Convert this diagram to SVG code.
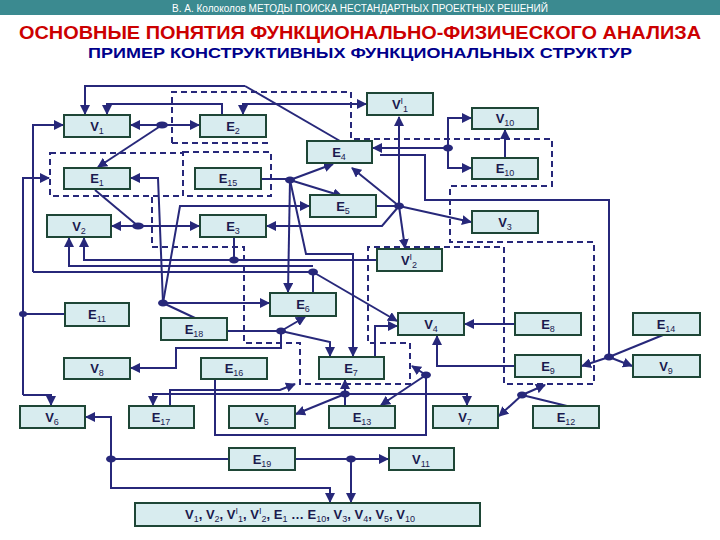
<svg xmlns="http://www.w3.org/2000/svg" width="720" height="540" viewBox="0 0 720 540">
<style>
.n rect{fill:#d8ecef;stroke:#1e4636;stroke-width:2}
.n text{font-family:"Liberation Sans",Arial,sans-serif;font-weight:bold;font-size:13px;fill:#1a1a4e;text-anchor:middle}
.n tspan.s{font-size:9px;font-weight:normal}
.c path{fill:none;stroke:#27287a;stroke-width:2}
.c ellipse{fill:#27287a}
.d{fill:none;stroke:#27287a;stroke-width:2;stroke-dasharray:6 4}
</style>
<defs>
<marker id="a" viewBox="0 0 10 10" refX="9" refY="5" markerWidth="5" markerHeight="5" orient="auto-start-reverse"><path d="M0,0L10,5L0,10z" fill="#27287a"/></marker>
</defs>
<rect width="720" height="540" fill="#fff"/>
<rect x="0" y="0" width="720" height="15" fill="#3b8a90"/>
<text x="360" y="11.5" font-family="Liberation Sans,Arial,sans-serif" font-size="10" fill="#fff" text-anchor="middle">В. А. Колоколов  МЕТОДЫ  ПОИСКА  НЕСТАНДАРТНЫХ  ПРОЕКТНЫХ  РЕШЕНИЙ</text>
<text x="360" y="39" font-family="Liberation Sans,Arial,sans-serif" font-weight="bold" font-size="19" fill="#cc0000" text-anchor="middle" textLength="682" lengthAdjust="spacingAndGlyphs">ОСНОВНЫЕ ПОНЯТИЯ ФУНКЦИОНАЛЬНО-ФИЗИЧЕСКОГО АНАЛИЗА</text>
<text x="360" y="58" font-family="Liberation Sans,Arial,sans-serif" font-weight="bold" font-size="15" fill="#00008b" text-anchor="middle" textLength="544" lengthAdjust="spacingAndGlyphs">ПРИМЕР КОНСТРУКТИВНЫХ ФУНКЦИОНАЛЬНЫХ СТРУКТУР</text>

<g id="dashed">
<rect class="d" x="50" y="153" width="133" height="43"/>
<rect class="d" x="183" y="152" width="88" height="44"/>
<path class="d" d="M172,143 V92 H351 V139 H552 V186 H450 V242 H594 V384 H504 V247 H368 V343 H410 V384 H300 V343 H244 V247 H152 V196"/>
<path class="d" d="M172,143 H271"/>
</g>

<g class="c" id="connectors">
<path d="M245,86 H85 V114" marker-end="url(#a)"/>
<path d="M245,86 L340,141"/>
<path d="M222,115 V104 H107 V114" marker-end="url(#a)"/>
<path d="M243,114 V104 H366" marker-start="url(#a)" marker-end="url(#a)"/>
<ellipse cx="162" cy="125" rx="6" ry="3.5"/>
<path d="M162,125 H131" marker-end="url(#a)"/>
<path d="M162,125 H199" marker-end="url(#a)"/>
<path d="M162,125 L98,167" marker-end="url(#a)"/>
<path d="M33,272 V125 H63" marker-end="url(#a)"/>
<path d="M23,395 V178 H49" marker-end="url(#a)"/>
<path d="M95,190 L138,226"/>
<ellipse cx="138" cy="226" rx="6" ry="3.5"/>
<path d="M138,226 H112" marker-end="url(#a)"/>
<path d="M138,226 H199" marker-end="url(#a)"/>
<path d="M163,303 L158,178 H131" marker-end="url(#a)"/>
<path d="M163,303 L180,206 H309" marker-end="url(#a)"/>
<path d="M261,179 H290"/>
<ellipse cx="290" cy="180" rx="5" ry="3.5"/>
<path d="M290,180 L333,164" marker-end="url(#a)"/>
<path d="M290,180 L342,196" marker-end="url(#a)"/>
<path d="M290,180 L288,292" marker-end="url(#a)"/>
<path d="M290,180 L306,254 H353 V356" marker-end="url(#a)"/>
<path d="M376,206 H399"/>
<ellipse cx="399" cy="206" rx="5" ry="3.5"/>
<path d="M399,206 L352,168" marker-end="url(#a)"/>
<path d="M399,206 V117" marker-end="url(#a)"/>
<path d="M399,206 L471,222" marker-end="url(#a)"/>
<path d="M399,206 L405,248" marker-end="url(#a)"/>
<path d="M399,206 L382,226 H267" marker-end="url(#a)"/>
<ellipse cx="448" cy="148" rx="5" ry="3.5"/>
<path d="M448,148 H373" marker-end="url(#a)"/>
<path d="M448,148 V118 H471" marker-end="url(#a)"/>
<path d="M448,148 V168 H471" marker-end="url(#a)"/>
<path d="M505,158 V130" marker-end="url(#a)"/>
<path d="M380,155 H425 V200 H609 V357"/>
<path d="M377,260 H84 V238" marker-end="url(#a)"/>
<path d="M234,237 V260"/>
<ellipse cx="234" cy="260" rx="5" ry="3.5"/>
<path d="M313,266 H69 V238" marker-end="url(#a)"/>
<path d="M33,272 H313"/>
<ellipse cx="313" cy="272" rx="5" ry="3.5"/>
<path d="M313,272 V293"/>
<path d="M313,272 L397,321" marker-end="url(#a)"/>
<ellipse cx="23" cy="314" rx="4" ry="3"/>
<path d="M23,314 H65"/>
<path d="M23,395 H51 V405" marker-end="url(#a)"/>
<ellipse cx="163" cy="303" rx="5" ry="3.5"/>
<path d="M163,303 H269" marker-end="url(#a)"/>
<path d="M163,303 L195,318"/>
<path d="M227,331 H281"/>
<ellipse cx="281" cy="331" rx="5" ry="3.5"/>
<path d="M281,331 L305,317" marker-end="url(#a)"/>
<path d="M281,331 L330,342 V356" marker-end="url(#a)"/>
<path d="M281,331 V348 H176 V368 H131" marker-end="url(#a)"/>
<path d="M375,357 V326 H397" marker-end="url(#a)"/>
<path d="M515,324 H465" marker-end="url(#a)"/>
<path d="M515,366 H437 V336" marker-end="url(#a)"/>
<ellipse cx="609" cy="357" rx="5" ry="3.5"/>
<path d="M663,335 L609,357"/>
<path d="M609,357 L582,366" marker-end="url(#a)"/>
<path d="M609,357 L632,366" marker-end="url(#a)"/>
<ellipse cx="522" cy="395" rx="5" ry="3.5"/>
<path d="M567,406 L522,395"/>
<path d="M522,395 L499,416" marker-end="url(#a)"/>
<path d="M522,395 L545,385" marker-end="url(#a)"/>
<path d="M215,379 V435 H426 V375"/>
<ellipse cx="426" cy="375" rx="5" ry="3.5"/>
<path d="M426,375 L412,366" marker-end="url(#a)"/>
<path d="M426,375 L381,405" marker-end="url(#a)"/>
<ellipse cx="345" cy="394" rx="5" ry="3.5"/>
<path d="M345,394 V380" marker-end="url(#a)"/>
<path d="M345,394 V406"/>
<path d="M345,394 L296,414" marker-end="url(#a)"/>
<path d="M153,405 V394 H467 V405" marker-start="url(#a)" marker-end="url(#a)"/>
<path d="M170,406 V390 H280 L295,384" marker-end="url(#a)"/>
<ellipse cx="111" cy="459" rx="5" ry="3.5"/>
<path d="M111,459 H229"/>
<path d="M111,459 V417 H86" marker-end="url(#a)"/>
<path d="M111,459 V488 H330 V502" marker-end="url(#a)"/>
<path d="M295,459 H351"/>
<ellipse cx="351" cy="459" rx="5" ry="3.5"/>
<path d="M351,459 H388" marker-end="url(#a)"/>
<path d="M351,459 V502" marker-end="url(#a)"/>
</g>

<g class="n" id="V1p"><rect x="367" y="93" width="66" height="22"/><text x="400" y="109">V<tspan class="s" dy="-5">I</tspan><tspan class="s" dy="8">1</tspan></text></g>
<g class="n" id="V10"><rect x="472" y="108" width="66" height="21"/><text x="505" y="123">V<tspan class="s" dy="3">10</tspan></text></g>
<g class="n" id="V1"><rect x="64" y="115" width="66" height="22"/><text x="97" y="131">V<tspan class="s" dy="3">1</tspan></text></g>
<g class="n" id="E2"><rect x="200" y="115" width="66" height="22"/><text x="233" y="131">E<tspan class="s" dy="3">2</tspan></text></g>
<g class="n" id="E4"><rect x="307" y="141" width="65" height="22"/><text x="339" y="157">E<tspan class="s" dy="3">4</tspan></text></g>
<g class="n" id="E10"><rect x="472" y="158" width="66" height="21"/><text x="505" y="173">E<tspan class="s" dy="3">10</tspan></text></g>
<g class="n" id="E1"><rect x="64" y="168" width="66" height="21"/><text x="97" y="183">E<tspan class="s" dy="3">1</tspan></text></g>
<g class="n" id="E15"><rect x="195" y="168" width="66" height="21"/><text x="228" y="183">E<tspan class="s" dy="3">15</tspan></text></g>
<g class="n" id="E5"><rect x="310" y="195" width="66" height="22"/><text x="343" y="211">E<tspan class="s" dy="3">5</tspan></text></g>
<g class="n" id="V3"><rect x="472" y="211" width="66" height="22"/><text x="505" y="227">V<tspan class="s" dy="3">3</tspan></text></g>
<g class="n" id="V2"><rect x="47" y="215" width="64" height="22"/><text x="79" y="231">V<tspan class="s" dy="3">2</tspan></text></g>
<g class="n" id="E3"><rect x="200" y="215" width="66" height="22"/><text x="233" y="231">E<tspan class="s" dy="3">3</tspan></text></g>
<g class="n" id="V2p"><rect x="377" y="249" width="65" height="22"/><text x="409" y="265">V<tspan class="s" dy="-5">I</tspan><tspan class="s" dy="8">2</tspan></text></g>
<g class="n" id="E11"><rect x="65" y="303" width="64" height="23"/><text x="97" y="319">E<tspan class="s" dy="3">11</tspan></text></g>
<g class="n" id="E6"><rect x="270" y="293" width="66" height="23"/><text x="303" y="309">E<tspan class="s" dy="3">6</tspan></text></g>
<g class="n" id="E18"><rect x="161" y="318" width="66" height="22"/><text x="194" y="334">E<tspan class="s" dy="3">18</tspan></text></g>
<g class="n" id="V4"><rect x="398" y="313" width="66" height="22"/><text x="431" y="329">V<tspan class="s" dy="3">4</tspan></text></g>
<g class="n" id="E8"><rect x="515" y="313" width="66" height="22"/><text x="548" y="329">E<tspan class="s" dy="3">8</tspan></text></g>
<g class="n" id="E14"><rect x="633" y="313" width="67" height="22"/><text x="666" y="329">E<tspan class="s" dy="3">14</tspan></text></g>
<g class="n" id="V8"><rect x="64" y="358" width="66" height="21"/><text x="97" y="373">V<tspan class="s" dy="3">8</tspan></text></g>
<g class="n" id="E16"><rect x="201" y="358" width="66" height="21"/><text x="234" y="373">E<tspan class="s" dy="3">16</tspan></text></g>
<g class="n" id="E7"><rect x="319" y="357" width="65" height="22"/><text x="351" y="373">E<tspan class="s" dy="3">7</tspan></text></g>
<g class="n" id="E9"><rect x="515" y="355" width="66" height="22"/><text x="548" y="371">E<tspan class="s" dy="3">9</tspan></text></g>
<g class="n" id="V9"><rect x="633" y="355" width="67" height="22"/><text x="666" y="371">V<tspan class="s" dy="3">9</tspan></text></g>
<g class="n" id="V6"><rect x="20" y="406" width="65" height="22"/><text x="52" y="422">V<tspan class="s" dy="3">6</tspan></text></g>
<g class="n" id="E17"><rect x="129" y="406" width="65" height="22"/><text x="161" y="422">E<tspan class="s" dy="3">17</tspan></text></g>
<g class="n" id="V5"><rect x="229" y="406" width="66" height="22"/><text x="262" y="422">V<tspan class="s" dy="3">5</tspan></text></g>
<g class="n" id="E13"><rect x="329" y="406" width="66" height="22"/><text x="362" y="422">E<tspan class="s" dy="3">13</tspan></text></g>
<g class="n" id="V7"><rect x="433" y="406" width="65" height="22"/><text x="465" y="422">V<tspan class="s" dy="3">7</tspan></text></g>
<g class="n" id="E12"><rect x="533" y="406" width="66" height="22"/><text x="566" y="422">E<tspan class="s" dy="3">12</tspan></text></g>
<g class="n" id="E19"><rect x="229" y="448" width="66" height="22"/><text x="262" y="464">E<tspan class="s" dy="3">19</tspan></text></g>
<g class="n" id="V11"><rect x="389" y="448" width="65" height="22"/><text x="421" y="464">V<tspan class="s" dy="3">11</tspan></text></g>
<g class="n" id="ALL"><rect x="135" y="503" width="345" height="23"/><text x="300" y="519">V<tspan class="s" dy="3">1</tspan><tspan dy="-3">, V</tspan><tspan class="s" dy="3">2</tspan><tspan dy="-3">, V</tspan><tspan class="s" dy="-5">I</tspan><tspan class="s" dy="8">1</tspan><tspan dy="-3">, V</tspan><tspan class="s" dy="-5">I</tspan><tspan class="s" dy="8">2</tspan><tspan dy="-3">, E</tspan><tspan class="s" dy="3">1</tspan><tspan dy="-3"> … E</tspan><tspan class="s" dy="3">10</tspan><tspan dy="-3">, V</tspan><tspan class="s" dy="3">3</tspan><tspan dy="-3">, V</tspan><tspan class="s" dy="3">4</tspan><tspan dy="-3">, V</tspan><tspan class="s" dy="3">5</tspan><tspan dy="-3">, V</tspan><tspan class="s" dy="3">10</tspan></text></g>
</svg>
